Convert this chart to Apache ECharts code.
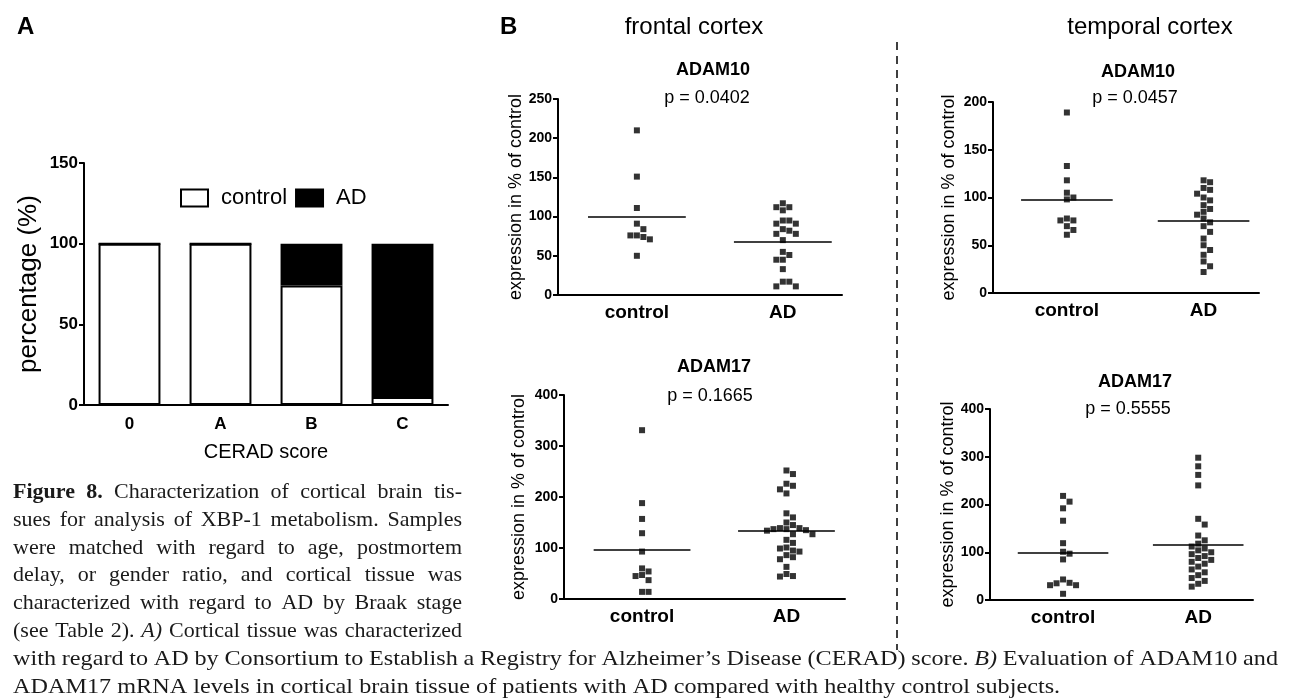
<!DOCTYPE html>
<html>
<head>
<meta charset="utf-8">
<script src="https://cdn.jsdelivr.net/npm/echarts@6/dist/echarts.min.js"></script>
<style>
  html, body { margin: 0; padding: 0; background: #fff; }
  #main { width: 1296px; height: 700px; }
</style>
</head>
<body>
<div id="main"></div>
<script>
// ---- panel A data ----
var ceradScores = ['0', 'A', 'B', 'C'];
var controlPct = [100, 100, 74, 5];
var adPct = [0, 0, 26, 95];

// ---- panel B data (expression in % of control) ----
var groupNames = ['control', 'AD'];
var geneNames = ['ADAM10', 'ADAM17', 'ADAM10', 'ADAM17'];
var pLabels = ['p = 0.0402', 'p = 0.1665', 'p = 0.0457', 'p = 0.5555'];

var frontal10Control = [210, 151, 111, 91, 84, 76, 74, 71, 76, 50];
var frontal10AD = [117, 112, 108, 112, 95, 91, 91, 95, 84, 82, 78, 78, 70, 55, 51, 45, 45, 33, 17, 17, 11, 11];
var frontal17Control = [331, 188, 157, 129, 93, 60, 54, 47, 45, 37, 14, 14];
var frontal17AD = [252, 245, 226, 222, 215, 207, 168, 160, 150, 145, 139, 139, 137, 134, 137, 135, 127, 127,
  116, 110, 101, 99, 95, 93, 86, 82, 78, 63, 49, 45, 44];
var temporal10Control = [189, 133, 118, 105, 100, 98, 78, 76, 76, 70, 66, 61];
var temporal10AD = [118, 116, 110, 108, 104, 100, 97, 92, 88, 85, 82, 78, 74, 70, 64, 57, 50, 45, 40, 33, 28, 22];
var temporal17Control = [218, 206, 192, 166, 119, 101, 97, 85, 43, 36, 31, 31, 35, 13];
var temporal17AD = [298, 280, 262, 240, 170, 158, 135, 125, 118, 112, 108, 104, 100, 96, 92, 88, 84, 80, 76,
  70, 64, 58, 52, 46, 40, 34, 28];

var yTicksMax = [250, 400, 200, 400];
var yTicksStep = [50, 100, 50, 100];

var captionLeft = [
  'Figure 8. Characterization of cortical brain tis-',
  'sues for analysis of XBP-1 metabolism. Samples',
  'were matched with regard to age, postmortem',
  'delay, or gender ratio, and cortical tissue was',
  'characterized with regard to AD by Braak stage',
  '(see Table 2). A) Cortical tissue was characterized'
];
var captionBottom = [
  'with regard to AD by Consortium to Establish a Registry for Alzheimer\u2019s Disease (CERAD) score. B) Evaluation of ADAM10 and',
  'ADAM17 mRNA levels in cortical brain tissue of patients with AD compared with healthy control subjects.'
];

// ---- layout ----
var SANS = '"Liberation Sans", Arial, sans-serif';
var SERIF = '"Liberation Serif", "Times New Roman", serif';
var XMAX = 3.6;
var groupX = [1, 2.85];

var panels = [
  { left: 558, top: 99, width: 284, height: 196, nameGap: 32, ctl: frontal10Control, ad: frontal10AD,
    title: [713, 70], p: [707, 98] },
  { left: 564, top: 395, width: 281, height: 204, nameGap: 36, ctl: frontal17Control, ad: frontal17AD,
    title: [714, 367], p: [710, 396] },
  { left: 993, top: 102, width: 266, height: 191, nameGap: 35, ctl: temporal10Control, ad: temporal10AD,
    title: [1138, 72], p: [1135, 98] },
  { left: 990, top: 409, width: 263, height: 191, nameGap: 33, ctl: temporal17Control, ad: temporal17AD,
    title: [1135, 382], p: [1128, 409] }
];

// simple beeswarm so dots with close values spread sideways
function swarm(values, center, pxX, pxY) {
  var step = 6.5, dot = 6.5;
  var order = values.map(function (v, i) { return i; })
    .sort(function (a, b) { return values[b] - values[a]; });
  var placed = [];
  var out = [];
  order.forEach(function (i) {
    var yp = values[i] * pxY;
    for (var k = 0; k < 40; k++) {
      var off = (k % 2 === 1 ? 1 : -1) * Math.ceil(k / 2) * step;
      var free = placed.every(function (p) {
        return Math.abs(p.x - off) >= dot || Math.abs(p.y - yp) >= dot;
      });
      if (free) {
        placed.push({ x: off, y: yp });
        out[i] = [center + off / pxX, values[i]];
        break;
      }
    }
  });
  return out;
}

function mean(arr) {
  return arr.reduce(function (s, v) { return s + v; }, 0) / arr.length;
}

var grids = [], xAxes = [], yAxes = [], series = [], graphics = [];

// panel A
grids.push({ left: 84, top: 163, width: 364, height: 242, outerBoundsMode: 'none' });
xAxes.push({
  gridIndex: 0, type: 'category', data: ceradScores,
  axisLine: { lineStyle: { color: '#000', width: 2 } },
  axisTick: { show: false },
  axisLabel: { color: '#000', fontSize: 17, fontWeight: 'bold', fontFamily: SANS, margin: 11 },
  name: 'CERAD score', nameLocation: 'middle', nameGap: 37,
  nameTextStyle: { color: '#000', fontSize: 20, fontFamily: SANS }
});
yAxes.push({
  gridIndex: 0, type: 'value', min: 0, max: 150, interval: 50,
  axisLine: { show: true, lineStyle: { color: '#000', width: 2 } },
  axisTick: { show: true, length: 5, lineStyle: { width: 2 } },
  splitLine: { show: false },
  axisLabel: { color: '#000', fontSize: 17, fontWeight: 'bold', fontFamily: SANS, margin: 6 },
  name: 'percentage (%)', nameLocation: 'middle', nameGap: 42,
  nameTextStyle: { color: '#000', fontSize: 26, fontFamily: SANS }
});
series.push({
  name: 'control', type: 'bar', stack: 'cerad', xAxisIndex: 0, yAxisIndex: 0,
  barWidth: '68%', data: controlPct,
  itemStyle: { color: '#fff', borderColor: '#000', borderWidth: 2 }
});
series.push({
  name: 'AD', type: 'bar', stack: 'cerad', xAxisIndex: 0, yAxisIndex: 0,
  barWidth: '68%', data: adPct,
  itemStyle: { color: '#000', borderColor: '#000', borderWidth: 2 }
});

// panel B scatter grids
panels.forEach(function (p, n) {
  var gi = n + 1;
  var ymax = yTicksMax[n];
  var pxX = p.width / XMAX, pxY = p.height / ymax;
  grids.push({ left: p.left, top: p.top, width: p.width, height: p.height, outerBoundsMode: 'none' });
  xAxes.push({
    gridIndex: gi, type: 'value', min: 0, max: XMAX,
    axisLine: { show: true, onZero: false, lineStyle: { color: '#000', width: 2 } },
    axisTick: { show: false }, splitLine: { show: false },
    axisLabel: {
      customValues: groupX,
      formatter: function (v) { return Math.abs(v - groupX[0]) < 0.01 ? groupNames[0] : groupNames[1]; },
      color: '#000', fontSize: 19, fontWeight: 'bold', fontFamily: SANS, margin: 8
    }
  });
  yAxes.push({
    gridIndex: gi, type: 'value', min: 0, max: ymax, interval: yTicksStep[n],
    axisLine: { show: true, lineStyle: { color: '#000', width: 2 } },
    axisTick: { show: true, length: 5, lineStyle: { width: 2 } },
    splitLine: { show: false },
    axisLabel: { color: '#000', fontSize: 14, fontWeight: 'bold', fontFamily: SANS, margin: 6 },
    name: 'expression in % of control', nameLocation: 'middle', nameGap: p.nameGap,
    nameTextStyle: { color: '#000', fontSize: 18, fontFamily: SANS }
  });
  [p.ctl, p.ad].forEach(function (vals, g) {
    var m = mean(vals);
    series.push({
      type: 'scatter', xAxisIndex: gi, yAxisIndex: gi,
      symbol: 'rect', symbolSize: 6,
      itemStyle: { color: '#000' },
      data: swarm(vals, groupX[g], pxX, pxY),
      markLine: {
        silent: true, symbol: ['none', 'none'], label: { show: false },
        lineStyle: { color: '#000', width: 1.6, type: 'solid' },
        emphasis: { disabled: true },
        data: [[{ coord: [groupX[g] - 0.62, m] }, { coord: [groupX[g] + 0.62, m] }]]
      }
    });
  });
  graphics.push({ type: 'text', x: p.title[0], y: p.title[1], silent: true,
    style: { text: geneNames[n], font: 'bold 18px ' + SANS, fill: '#000', align: 'center', verticalAlign: 'middle' } });
  graphics.push({ type: 'text', x: p.p[0], y: p.p[1], silent: true,
    style: { text: pLabels[n], font: '18px ' + SANS, fill: '#000', align: 'center', verticalAlign: 'middle' } });
});

// headings
graphics.push({ type: 'text', x: 17, y: 27, silent: true,
  style: { text: 'A', font: 'bold 24px ' + SANS, fill: '#000', verticalAlign: 'middle' } });
graphics.push({ type: 'text', x: 500, y: 27, silent: true,
  style: { text: 'B', font: 'bold 24px ' + SANS, fill: '#000', verticalAlign: 'middle' } });
graphics.push({ type: 'text', x: 694, y: 27, silent: true,
  style: { text: 'frontal cortex', font: '24px ' + SANS, fill: '#000', align: 'center', verticalAlign: 'middle' } });
graphics.push({ type: 'text', x: 1150, y: 27, silent: true,
  style: { text: 'temporal cortex', font: '24px ' + SANS, fill: '#000', align: 'center', verticalAlign: 'middle' } });
graphics.push({ type: 'line', silent: true,
  shape: { x1: 897, y1: 42, x2: 897, y2: 650 },
  style: { stroke: '#000', lineWidth: 1.5, lineDash: [8, 6] } });

// caption, laid out word by word so lines can be justified
var measureCtx = document.createElement('canvas').getContext('2d');
function captionLine(text, x, y, width, size, justify, lineNo, sx) {
  var words = text.split(' ');
  var fonts = words.map(function (w, i) {
    var bold = lineNo === 0 && i < 2;
    var italic = (w === 'A)' || w === 'B)');
    return (italic ? 'italic ' : '') + (bold ? 'bold ' : '') + size + 'px ' + SERIF;
  });
  var widths = words.map(function (w, i) { measureCtx.font = fonts[i]; return measureCtx.measureText(w).width * sx; });
  measureCtx.font = size + 'px ' + SERIF;
  var space = measureCtx.measureText(' ').width * sx;
  var total = widths.reduce(function (s, v) { return s + v; }, 0);
  var gap = justify ? (width - total) / (words.length - 1) : space;
  var cx = x;
  words.forEach(function (w, i) {
    graphics.push({ type: 'text', x: cx, y: y, scaleX: sx, silent: true,
      style: { text: w, font: fonts[i], fill: '#1a1a1a', verticalAlign: 'middle' } });
    cx += widths[i] + gap;
  });
}
captionLeft.forEach(function (t, i) { captionLine(t, 13, 492 + i * 27.9, 449, 22, true, i, 1); });
captionLine(captionBottom[0], 13, 659, 1265, 22, true, 6, 1.1);
captionLine(captionBottom[1], 13, 687, 1265, 22, false, 7, 1.1);

var chart = echarts.init(document.getElementById('main'));
chart.setOption({
  animation: false,
  textStyle: { fontFamily: SANS },
  legend: {
    data: ['control', 'AD'], left: 180, top: 187, icon: 'rect', padding: 0,
    itemWidth: 27, itemHeight: 17, itemGap: 8,
    textStyle: { color: '#000', fontSize: 22, fontFamily: SANS, padding: [0, 0, 0, 8] },
    selectedMode: false
  },
  grid: grids,
  xAxis: xAxes,
  yAxis: yAxes,
  series: series,
  graphic: graphics
});
</script>
</body>
</html>
